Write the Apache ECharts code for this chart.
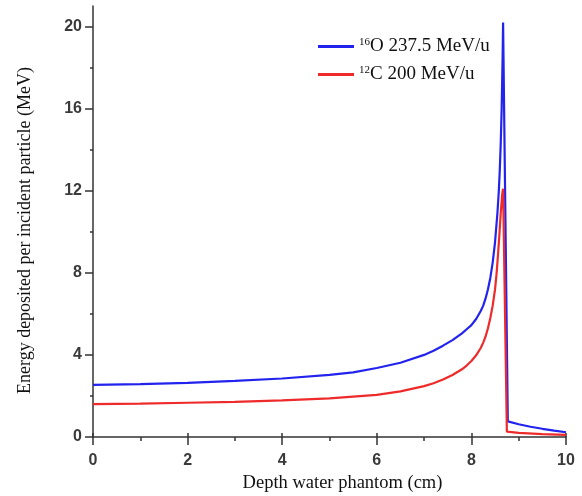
<!DOCTYPE html>
<html>
<head>
<meta charset="utf-8">
<script src="https://cdn.jsdelivr.net/npm/echarts@6/dist/echarts.min.js"></script>
<style>html,body{margin:0;padding:0;background:#fff;}#c{width:582px;height:496px;}</style>
</head>
<body>
<div id="c"></div>
<script>
// Oxygen-16, 237.5 MeV/u
var oDepth = [0, 1, 2, 3, 4, 5, 5.5, 6, 6.5, 7, 7.2, 7.4, 7.6, 7.8, 7.9, 8.0, 8.1, 8.2, 8.25, 8.3, 8.35, 8.4, 8.45, 8.5, 8.55, 8.58, 8.6, 8.62, 8.64, 8.66, 8.67, 8.77, 9.0, 9.25, 9.5, 9.75, 10];
var oEnergy = [2.54, 2.58, 2.64, 2.73, 2.85, 3.03, 3.15, 3.36, 3.62, 4.0, 4.2, 4.45, 4.72, 5.05, 5.25, 5.45, 5.75, 6.15, 6.4, 6.75, 7.2, 7.75, 8.5, 9.5, 10.9, 12.0, 13.0, 14.3, 16.0, 18.5, 20.2, 0.76, 0.62, 0.5, 0.4, 0.31, 0.23];
// Carbon-12, 200 MeV/u
var cDepth = [0, 1, 2, 3, 4, 5, 6, 6.5, 7, 7.2, 7.4, 7.6, 7.8, 7.9, 8.0, 8.1, 8.2, 8.25, 8.3, 8.35, 8.4, 8.45, 8.5, 8.53, 8.56, 8.59, 8.62, 8.65, 8.67, 8.75, 9.0, 9.5, 10];
var cEnergy = [1.6, 1.63, 1.67, 1.71, 1.78, 1.88, 2.05, 2.22, 2.48, 2.62, 2.8, 3.02, 3.3, 3.48, 3.7, 3.98, 4.35, 4.6, 4.9, 5.3, 5.8, 6.4, 7.2, 7.9, 8.8, 9.8, 10.9, 11.8, 12.1, 0.26, 0.2, 0.14, 0.1];
var xTickLabels = [0, 2, 4, 6, 8, 10];
var xMinorTicks = [1, 3, 5, 7, 9];
var yTickLabels = [0, 4, 8, 12, 16, 20];
var yMinorTicks = [2, 6, 10, 14, 18];

function pairs(xs, ys) { return xs.map(function (x, i) { return [x, ys[i]]; }); }

var chart = echarts.init(document.getElementById('c'), null, { renderer: 'canvas' });
var axisColor = '#333';
var labelStyle = { fontFamily: 'Liberation Sans', fontSize: 16, fontWeight: 'bold', color: '#3a3a3a' };
function tickOnlyAxis(extra) {
  return Object.assign({
    type: 'value', axisLine: { show: false }, axisLabel: { show: false }, splitLine: { show: false }
  }, extra);
}
chart.setOption({
  animation: false,
  backgroundColor: '#fff',
  grid: { left: 93, right: 16, top: 6, bottom: 59, outerBoundsMode: 'none', containLabel: false },
  legend: {
    orient: 'vertical', left: 313, top: 32,
    icon: 'rect', itemWidth: 36, itemHeight: 3, itemGap: 9,
    data: ['O', 'C'],
    formatter: function (n) { return n === 'O' ? '{s|16}{t|O 237.5 MeV/u}' : '{s|12}{t|C 200 MeV/u}'; },
    textStyle: {
      rich: {
        s: { fontFamily: 'Liberation Serif', fontSize: 11, color: '#111', verticalAlign: 'top', lineHeight: 19 },
        t: { fontFamily: 'Liberation Serif', fontSize: 19, color: '#111', lineHeight: 19 }
      }
    }
  },
  xAxis: [{
    type: 'value', min: 0, max: 10, interval: 1,
    name: 'Depth water phantom (cm)', nameLocation: 'middle', nameGap: 37,
    nameTextStyle: { fontFamily: 'Liberation Serif', fontSize: 18.5, color: '#111', padding: [0, 0, 0, 26] },
    axisLine: { show: true, lineStyle: { color: axisColor, width: 1.5 } },
    axisTick: { show: true, length: 8, customValues: xTickLabels, lineStyle: { color: axisColor, width: 1.5 } },
    axisLabel: Object.assign({ customValues: xTickLabels, margin: 16 }, labelStyle),
    splitLine: { show: false }
  }, tickOnlyAxis({
    min: 0, max: 10, position: 'bottom',
    axisTick: { show: true, length: 4, customValues: xMinorTicks, lineStyle: { color: axisColor, width: 1.5 } }
  }), tickOnlyAxis({
    min: 0, max: 10, position: 'bottom',
    axisTick: { show: true, inside: true, length: 4, customValues: xTickLabels, lineStyle: { color: axisColor, width: 1.5 } }
  })],
  yAxis: [{
    type: 'value', min: 0, max: 21,
    name: 'Energy deposited per incident particle (MeV)', nameLocation: 'middle', nameGap: 59,
    nameTextStyle: { fontFamily: 'Liberation Serif', fontSize: 18, color: '#111', padding: [0, 18, 0, 0] },
    axisLine: { show: true, lineStyle: { color: axisColor, width: 1.5 } },
    axisTick: { show: true, length: 8, customValues: yTickLabels, lineStyle: { color: axisColor, width: 1.5 } },
    axisLabel: Object.assign({ customValues: yTickLabels, margin: 11 }, labelStyle),
    splitLine: { show: false }
  }, tickOnlyAxis({
    min: 0, max: 21, position: 'left',
    axisTick: { show: true, length: 3, customValues: yMinorTicks, lineStyle: { color: axisColor, width: 1.5 } }
  })],
  series: [
    { name: 'O', type: 'line', data: pairs(oDepth, oEnergy), showSymbol: false, smooth: false,
      color: '#2323ee', lineStyle: { color: '#2323ee', width: 2.2 } },
    { name: 'C', type: 'line', data: pairs(cDepth, cEnergy), showSymbol: false, smooth: false,
      color: '#ee2a2a', lineStyle: { color: '#ee2a2a', width: 2.2 } }
  ]
});
</script>
</body>
</html>
